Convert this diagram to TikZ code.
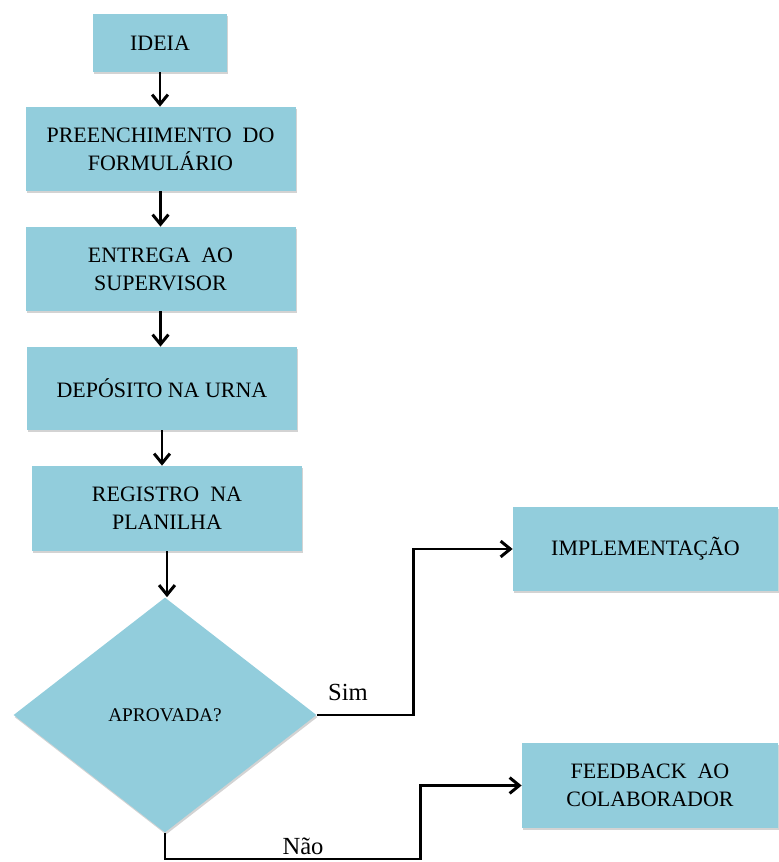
\documentclass[tikz,border=0pt]{standalone}
\usepackage{fontspec}
\setmainfont{Liberation Serif}
\usetikzlibrary{shapes.geometric,arrows.meta,shadows}
\definecolor{caixa}{RGB}{146,205,220}
\begin{document}
\begin{tikzpicture}[
    etapa/.style={rectangle, fill=caixa, minimum width=5.4cm, minimum height=1.68cm, inner sep=2pt,
        align=center, font=\fontsize{12.5}{16}\selectfont,
        drop shadow={shadow xshift=0.6pt, shadow yshift=-1.2pt, opacity=0.35}},
    decisao/.style={diamond, fill=caixa, minimum width=6.06cm, minimum height=4.7cm, inner sep=0pt,
        font=\fontsize{11}{13}\selectfont,
        drop shadow={shadow xshift=0.6pt, shadow yshift=-1.2pt, opacity=0.35}},
    seta/.style={-{Straight Barb[length=5.5pt,width=9pt]}, line width=1.7pt},
    rotulo/.style={font=\fontsize{14}{16}\selectfont}]
    \useasboundingbox (0,0) rectangle (15.56,17.24);

    % Fluxo principal
    \node[etapa, minimum width=2.68cm, minimum height=1.16cm] (ideia) at (3.2,16.38) {IDEIA};
    \node[etapa] (preench) at (3.21,14.26) {PREENCHIMENTO~ DO\\FORMULÁRIO};
    \node[etapa] (entrega) at (3.21,11.86) {ENTREGA~ AO\\SUPERVISOR};
    \node[etapa, minimum height=1.66cm] (deposito) at (3.24,9.47) {DEPÓSITO NA URNA};
    \node[etapa, minimum height=1.7cm] (registro) at (3.34,7.07) {REGISTRO~ NA\\PLANILHA};
    \node[decisao] (aprov) at (3.3,2.94) {APROVADA?};

    \foreach \a/\b in {ideia/preench, preench/entrega, entrega/deposito, deposito/registro, registro/aprov} {
        \draw[seta] (\a.south) -- (\a.south |- \b.north);
    }

    % Saidas
    \node[etapa, minimum width=5.3cm] (implem) at (12.91,6.26) {IMPLEMENTAÇÃO};
    \node[etapa, minimum width=5.12cm, minimum height=1.7cm] (feedback) at (13.0,1.53) {FEEDBACK~ AO\\COLABORADOR};

    \draw[seta] (aprov.east) -- ++(1.94,0) |- (implem.west);
    \node[rotulo] (sim) at (6.96,3.4) {Sim};

    \draw[seta] (aprov.south) |- (8.4,0.06) |- (feedback.west);
    \node[rotulo] (nao) at (6.06,0.32) {Não};
\end{tikzpicture}
\end{document}
